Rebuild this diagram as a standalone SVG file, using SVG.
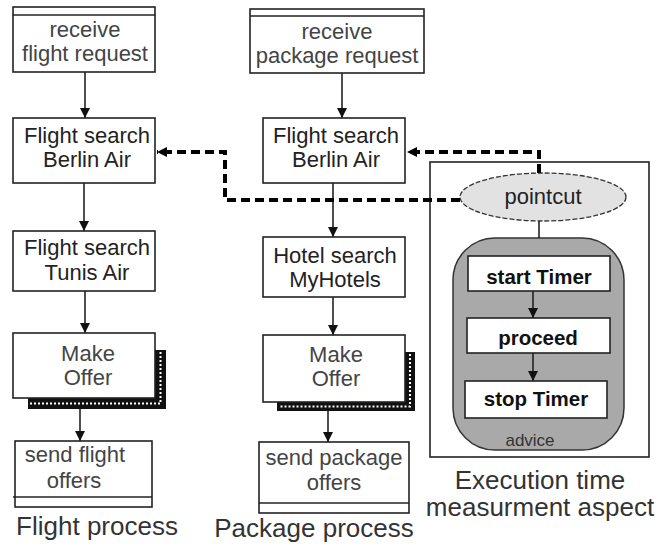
<svg xmlns="http://www.w3.org/2000/svg" width="660" height="546" viewBox="0 0 660 546">
<defs>
<style>
.box{fill:#fff;stroke:#222;stroke-width:1.6}
.t{font-family:"Liberation Sans",Arial,sans-serif;font-size:22px;fill:#222;text-anchor:middle}
.g{fill:#444}
.b{font-weight:bold;font-size:20.5px;fill:#111}
.cap{font-family:"Liberation Sans",Arial,sans-serif;font-size:26px;fill:#333;text-anchor:middle}
.flow{stroke:#222;stroke-width:1.6;fill:none}
.dash{stroke:#000;stroke-width:4;fill:none;stroke-dasharray:9 5}
.shadow{fill:#111}
.dots{stroke:#fff;stroke-width:2;fill:none;stroke-dasharray:2 2}
</style>
<marker id="ah" viewBox="0 0 10 10" refX="10" refY="5" markerWidth="10" markerHeight="12" markerUnits="userSpaceOnUse" orient="auto">
<path d="M0,0 L10,5 L0,10 Z" fill="#111"/>
</marker>
<marker id="ahd" viewBox="0 0 10 10" refX="10" refY="5" markerWidth="3" markerHeight="2.5" orient="auto">
<path d="M0,0 L10,5 L0,10 Z" fill="#000"/>
</marker>
</defs>
<rect width="660" height="546" fill="#fff"/>

<g id="aspect">
<rect x="430" y="162" width="219" height="295" class="box" stroke-width="1.5"/>
<text class="cap" x="540" y="489">Execution time</text>
<text class="cap" x="540" y="516">measurment aspect</text>
</g>

<g id="receive-flight">
<rect class="box" x="13" y="7" width="142" height="65"/>
<line class="flow" x1="13" y1="15" x2="155" y2="15"/>
<text class="t g" x="85" y="37">receive</text>
<text class="t g" x="85" y="61">flight request</text>
</g>

<g id="flight-berlin">
<rect class="box" x="13" y="118" width="142" height="65"/>
<text class="t" x="87" y="143">Flight search</text>
<text class="t" x="87" y="167">Berlin Air</text>
</g>

<g id="flight-tunis">
<rect class="box" x="13" y="231" width="142" height="60"/>
<text class="t" x="87" y="255">Flight search</text>
<text class="t" x="87" y="280">Tunis Air</text>
</g>

<g id="make-offer-flight">
<path class="shadow" d="M155,350 H166 V409 H28 V398 H155 Z"/>
<path class="dots" d="M160.5,352 V403.5 H30"/>
<rect class="box" x="13" y="333" width="142" height="65"/>
<text class="t g" x="88" y="361">Make</text>
<text class="t g" x="88" y="385">Offer</text>
</g>

<g id="send-flight">
<rect class="box" x="15" y="441" width="137" height="66"/>
<line class="flow" x1="13" y1="497" x2="152" y2="497"/>
<text class="t g" x="75" y="462">send flight</text>
<text class="t g" x="74" y="488">offers</text>
</g>
<text class="cap" x="97" y="535">Flight process</text>

<g id="receive-package">
<rect class="box" x="250" y="9" width="174" height="64"/>
<line class="flow" x1="250" y1="16" x2="424" y2="16"/>
<text class="t g" x="337" y="39">receive</text>
<text class="t g" x="337" y="63">package request</text>
</g>

<g id="package-berlin">
<rect class="box" x="263" y="118" width="142" height="65"/>
<text class="t" x="336" y="143">Flight search</text>
<text class="t" x="336" y="167">Berlin Air</text>
</g>

<g id="hotel-search">
<rect class="box" x="263" y="237" width="142" height="60"/>
<text class="t" x="335" y="263">Hotel search</text>
<text class="t" x="335" y="287">MyHotels</text>
</g>

<g id="make-offer-package">
<path class="shadow" d="M405,352 H415 V411 H277 V402 H405 Z"/>
<path class="dots" d="M410,354 V406.5 H279"/>
<rect class="box" x="263" y="335" width="142" height="67"/>
<text class="t g" x="336" y="362">Make</text>
<text class="t g" x="336" y="386">Offer</text>
</g>

<g id="send-package">
<rect class="box" x="259" y="442" width="150" height="71"/>
<line class="flow" x1="259" y1="503" x2="409" y2="503"/>
<text class="t g" x="334" y="465">send package</text>
<text class="t g" x="334" y="490">offers</text>
</g>
<text class="cap" x="314" y="537">Package process</text>

<g id="pointcut">
<ellipse cx="543" cy="197" rx="83" ry="24" fill="#e2e2e2" stroke="#333" stroke-width="1.3" stroke-dasharray="5 2"/>
<text class="t" x="543" y="204">pointcut</text>
</g>

<g id="advice">
<rect x="453" y="238" width="171" height="212" rx="42" ry="42" fill="#a9a9a9" stroke="#333" stroke-width="1.5"/>
<text class="t" x="530" y="446" style="font-size:17px;fill:#333">advice</text>
</g>

<g id="start-timer">
<rect class="box" x="468" y="256" width="142" height="35"/>
<text class="t b" x="539" y="284">start Timer</text>
</g>

<g id="proceed">
<rect class="box" x="467" y="318" width="143" height="35"/>
<text class="t b" x="538" y="345">proceed</text>
</g>

<g id="stop-timer">
<rect class="box" x="465" y="381" width="142" height="37"/>
<text class="t b" x="536" y="406">stop Timer</text>
</g>

<g id="connectors">
<line class="flow" x1="85" y1="72" x2="85" y2="118" marker-end="url(#ah)"/>
<line class="flow" x1="84" y1="183" x2="84" y2="231" marker-end="url(#ah)"/>
<line class="flow" x1="85" y1="291" x2="85" y2="333" marker-end="url(#ah)"/>
<line class="flow" x1="80" y1="409" x2="80" y2="441" marker-end="url(#ah)"/>
<line class="flow" x1="342" y1="73" x2="342" y2="118" marker-end="url(#ah)"/>
<line class="flow" x1="333" y1="183" x2="333" y2="237" marker-end="url(#ah)"/>
<line class="flow" x1="333" y1="297" x2="333" y2="335" marker-end="url(#ah)"/>
<line class="flow" x1="328" y1="411" x2="328" y2="442" marker-end="url(#ah)"/>
<line class="flow" x1="539" y1="221" x2="539" y2="238"/>
<line class="flow" x1="533" y1="291" x2="533" y2="318" marker-end="url(#ah)"/>
<line class="flow" x1="533" y1="353" x2="533" y2="381" marker-end="url(#ah)"/>
<path class="dash" d="M460,200 H225 V152 H157" marker-end="url(#ahd)"/>
<path class="dash" d="M539,173 V152 H407" marker-end="url(#ahd)"/>
</g>
</svg>
